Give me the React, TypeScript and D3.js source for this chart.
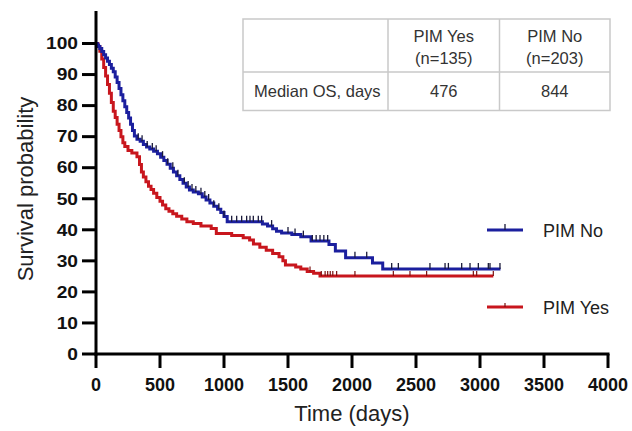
import React from "react";
import * as d3 from "d3";

// ---- data ----
const xTicks = [0, 500, 1000, 1500, 2000, 2500, 3000, 3500, 4000];
const yTicks = [0, 10, 20, 30, 40, 50, 60, 70, 80, 90, 100];

// PIM No (n=203): [time, survival after step]
const pimNoSteps: [number, number][] = [
  [0, 100], [10, 99.5], [20, 99], [30, 98.4], [45, 97.4], [60, 96.4], [75, 95.3], [90, 94.3],
  [105, 93.2], [120, 92], [135, 90.9], [150, 89.2], [165, 87.4], [180, 85.5], [195, 83.5],
  [210, 81.6], [225, 79.6], [240, 77.8], [255, 76], [270, 74], [285, 72], [300, 70.2],
  [320, 69.2], [345, 68.5], [370, 67.5], [395, 66.7], [420, 66], [450, 65.3], [480, 64.5],
  [505, 63.4], [530, 62.3], [555, 61.1], [580, 59.8], [605, 58.6], [630, 57.4], [655, 56.2],
  [680, 55], [705, 53.8], [730, 52.8], [760, 52.2], [800, 51.6], [830, 50.6], [860, 49.6],
  [890, 48.6], [920, 47.6], [950, 46.6], [975, 45.6], [1000, 44.3], [1025, 42.6],
  [1300, 41.9], [1340, 41.2], [1380, 40.3], [1410, 39.5], [1450, 39], [1530, 38.5],
  [1600, 37.8], [1680, 36.4], [1820, 35.3], [1870, 33.2], [1950, 31], [2160, 29.3], [2240, 27.4],
];
const pimNoEnd = 3160;
const pimNoCensored = [
  330, 360, 400, 440, 470, 520, 560, 600, 640, 690, 720, 750, 780, 820, 850, 880, 920, 960,
  1000, 1060, 1099, 1138, 1177, 1203, 1229, 1268, 1294, 1372, 1500, 1555, 1620, 1690, 1720,
  1750, 1780, 1810, 2023, 2115, 2310, 2362, 2609, 2727, 2753, 2857, 2922, 2987, 3065, 3078, 3156,
];

// PIM Yes (n=135)
const pimYesSteps: [number, number][] = [
  [0, 100], [15, 99], [30, 97.5], [45, 95], [60, 92.3], [75, 89.5], [90, 86.8], [105, 84],
  [120, 81], [135, 78.2], [150, 76.2], [165, 74], [180, 72], [195, 70], [210, 68], [225, 66.8],
  [250, 65.5], [280, 64.7], [320, 63.5], [340, 61], [355, 58.6], [370, 57], [390, 55.5],
  [410, 54], [430, 53], [450, 51.8], [475, 50.4], [500, 49.2], [520, 48], [545, 46.8],
  [570, 46], [600, 45.2], [630, 44.4], [670, 43.5], [710, 42.6], [760, 42], [820, 41.2],
  [900, 40.4], [940, 38.8], [1060, 38.2], [1150, 37.4], [1200, 36.7], [1230, 35.4],
  [1280, 34.4], [1330, 33.4], [1380, 32.4], [1430, 31.3], [1460, 30], [1480, 28.7],
  [1560, 28], [1600, 27.4], [1650, 26.6], [1700, 26], [1750, 25.1],
];
const pimYesEnd = 3104;
const pimYesCensored = [1672, 1760, 1790, 1810, 1830, 1850, 1880, 2023, 2323, 2453, 2583, 2948, 2974, 3104];

const tableHeaders = ["", "PIM Yes|(n=135)", "PIM No|(n=203)"];
const tableRow = ["Median OS, days", "476", "844"];

const BLUE = "#1b1f9e";
const RED = "#c8161d";

function survAt(steps: [number, number][], t: number) {
  let s = steps[0][1];
  for (const [tt, ss] of steps) {
    if (tt <= t) s = ss;
    else break;
  }
  return s;
}

export default function App() {
  const W = 632, H = 431;
  const x = d3.scaleLinear().domain([0, 4000]).range([96, 608]);
  const y = d3.scaleLinear().domain([0, 100]).range([354, 43.5]);
  const line = d3
    .line<[number, number]>()
    .x((d) => x(d[0]))
    .y((d) => y(d[1]))
    .curve(d3.curveStepAfter);

  const noPts: [number, number][] = [...pimNoSteps, [pimNoEnd, pimNoSteps[pimNoSteps.length - 1][1]]];
  const yesPts: [number, number][] = [...pimYesSteps, [pimYesEnd, pimYesSteps[pimYesSteps.length - 1][1]]];

  const font = "Liberation Sans, Arial, Helvetica, sans-serif";

  // table geometry
  const tX = [243, 388, 499.5, 610];
  const tY = [19, 72, 110.5];

  return (
    <svg width={W} height={H} style={{ position: "absolute", left: 0, top: 0, background: "#fff" }} fontFamily={font}>
      <rect x={0} y={0} width={W} height={H} fill="#fff" />

      {/* curves */}
      <path d={line(yesPts) || ""} fill="none" stroke={RED} strokeWidth={3} />
      <path d={line(noPts) || ""} fill="none" stroke={BLUE} strokeWidth={3} />
      {pimYesCensored.map((t, i) => {
        const s = survAt(pimYesSteps, t);
        return <line key={"yc" + i} x1={x(t)} x2={x(t)} y1={y(s) - 5} y2={y(s)} stroke="#7a1010" strokeWidth={1.2} />;
      })}
      {pimNoCensored.map((t, i) => {
        const s = survAt(pimNoSteps, t);
        return <line key={"nc" + i} x1={x(t)} x2={x(t)} y1={y(s) - 6} y2={y(s)} stroke="#1a1a3a" strokeWidth={1.3} />;
      })}

      {/* axes */}
      <line x1={x(0)} x2={x(0)} y1={11} y2={y(0) + 1.5} stroke="#000" strokeWidth={3} />
      <line x1={x(0) - 1.5} x2={x(4000) + 1.5} y1={y(0)} y2={y(0)} stroke="#000" strokeWidth={3} />
      {yTicks.map((v) => (
        <g key={"yt" + v}>
          <line x1={82} x2={x(0)} y1={y(v)} y2={y(v)} stroke="#000" strokeWidth={3} />
          <text
            transform={`translate(78,${y(v)}) scale(1.2,1)`}
            textAnchor="end"
            dy="0.36em"
            fontSize={16}
            fontWeight="bold"
            fill="#111"
          >
            {v}
          </text>
        </g>
      ))}
      {xTicks.map((v) => (
        <g key={"xt" + v}>
          <line x1={x(v)} x2={x(v)} y1={y(0)} y2={368} stroke="#000" strokeWidth={3} />
          <text x={x(v)} y={391} textAnchor="middle" fontSize={18} fontWeight="bold" fill="#111">
            {v}
          </text>
        </g>
      ))}

      {/* axis titles */}
      <text transform="translate(33,189) rotate(-90)" textAnchor="middle" fontSize={22} fill="#222">
        Survival probability
      </text>
      <text x={352} y={421} textAnchor="middle" fontSize={22} fill="#222">
        Time (days)
      </text>

      {/* legend */}
      <line x1={487} x2={523} y1={230} y2={230} stroke={BLUE} strokeWidth={3} />
      <line x1={505} x2={505} y1={224} y2={230} stroke="#1a1a3a" strokeWidth={1.3} />
      <text x={543} y={236.5} fontSize={18} fill="#222">PIM No</text>
      <line x1={487} x2={523} y1={307} y2={307} stroke={RED} strokeWidth={3} />
      <line x1={505} x2={505} y1={303} y2={307} stroke="#7a1010" strokeWidth={1.2} />
      <text x={543} y={313.5} fontSize={18} fill="#222">PIM Yes</text>

      {/* table */}
      <rect x={tX[0]} y={tY[0]} width={tX[3] - tX[0]} height={tY[2] - tY[0]} fill="#fff" stroke="#c9c9c9" strokeWidth={1.5} />
      <line x1={tX[0]} x2={tX[3]} y1={tY[1]} y2={tY[1]} stroke="#c9c9c9" strokeWidth={1.5} />
      <line x1={tX[1]} x2={tX[1]} y1={tY[0]} y2={tY[2]} stroke="#c9c9c9" strokeWidth={1.5} />
      <line x1={tX[2]} x2={tX[2]} y1={tY[0]} y2={tY[2]} stroke="#c9c9c9" strokeWidth={1.5} />
      {tableHeaders.map((h, i) => {
        if (!h) return null;
        const [a, b] = h.split("|");
        const cx = (tX[i] + tX[i + 1]) / 2;
        return (
          <g key={"th" + i}>
            <text x={cx} y={41.5} textAnchor="middle" fontSize={16.5} fill="#333">{a}</text>
            <text x={cx} y={64} textAnchor="middle" fontSize={16.5} fill="#333">{b}</text>
          </g>
        );
      })}
      {tableRow.map((c, i) => (
        <text
          key={"tr" + i}
          x={i === 0 ? 254 : (tX[i] + tX[i + 1]) / 2}
          y={96.5}
          textAnchor={i === 0 ? "start" : "middle"}
          fontSize={16.5}
          fill="#333"
        >
          {c}
        </text>
      ))}
    </svg>
  );
}
